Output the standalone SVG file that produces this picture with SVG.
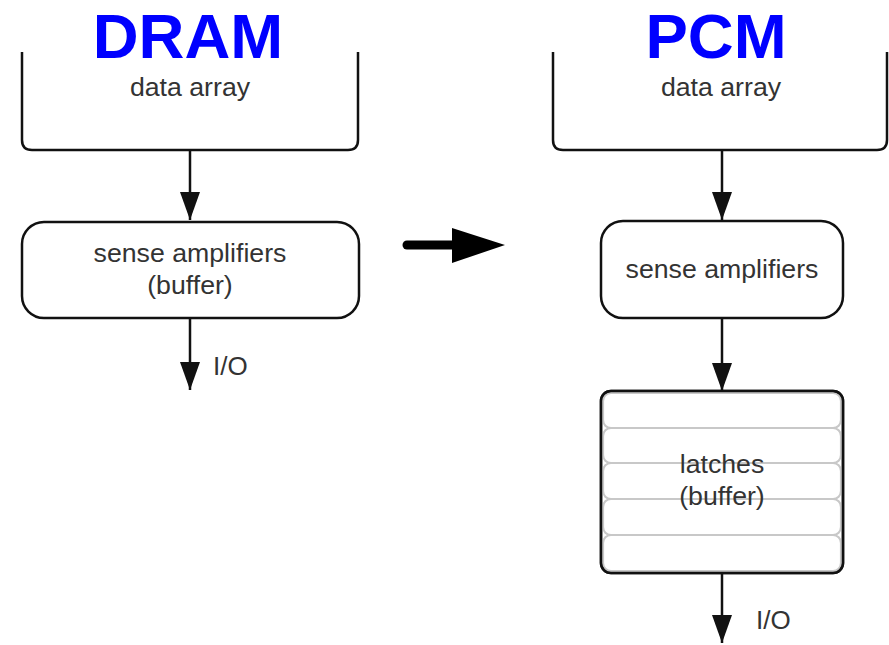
<svg xmlns="http://www.w3.org/2000/svg" width="889" height="645" viewBox="0 0 889 645">
<style>
.box{fill:#fff;stroke:#111;stroke-width:2.5}
.open{fill:none;stroke:#111;stroke-width:2.5}
.row{fill:none;stroke:#c8c8c8;stroke-width:2.2}
.lbl{font-family:"Liberation Sans",Arial,sans-serif;font-size:26.7px;fill:#333;text-anchor:middle}
.io{font-family:"Liberation Sans",Arial,sans-serif;font-size:26px;fill:#333}
.title{font-family:"Liberation Sans",Arial,sans-serif;font-size:63.5px;font-weight:bold;fill:#0000ff;text-anchor:middle}
.conn{stroke:#111;stroke-width:2.5;fill:none}
</style>
<defs>
<marker id="ah" markerUnits="userSpaceOnUse" markerWidth="28" markerHeight="20" refX="28" refY="10" orient="auto">
<path d="M0,0 L28,10 L0,20 z" fill="#111"/>
</marker>
</defs>
<g id="title-dram"><text class="title" x="188" y="58">DRAM</text></g>
<g id="title-pcm"><text class="title" x="716" y="58">PCM</text></g>
<g id="dram-data-array">
<path class="open" d="M22,52 V140 Q22,150 32,150 H348 Q358,150 358,140 V52"/>
<text class="lbl" x="190" y="96">data array</text>
</g>
<g id="dram-sense">
<rect class="box" x="22" y="222" width="337" height="96" rx="22"/>
<text class="lbl" x="190" y="262">sense amplifiers</text>
<text class="lbl" x="190" y="294">(buffer)</text>
</g>
<g id="dram-io"><text class="io" x="213" y="375">I/O</text></g>
<g id="pcm-data-array">
<path class="open" d="M553,52 V140 Q553,150 563,150 H877 Q887,150 887,140 V52"/>
<text class="lbl" x="721" y="96">data array</text>
</g>
<g id="pcm-sense">
<rect class="box" x="601" y="221" width="242" height="97" rx="22"/>
<text class="lbl" x="722" y="278">sense amplifiers</text>
</g>
<g id="pcm-latches">
<rect class="box" x="601" y="391" width="242" height="182" rx="10"/>
<rect class="row" x="603" y="393" width="238" height="35" rx="8"/>
<rect class="row" x="603" y="428" width="238" height="35" rx="8"/>
<rect class="row" x="603" y="463" width="238" height="36" rx="8"/>
<rect class="row" x="603" y="499" width="238" height="36" rx="8"/>
<rect class="row" x="603" y="535" width="238" height="36" rx="8"/>
<rect x="601" y="391" width="242" height="182" rx="10" fill="none" stroke="#111" stroke-width="2.5"/>
<text class="lbl" x="722" y="473">latches</text>
<text class="lbl" x="722" y="505">(buffer)</text>
</g>
<g id="pcm-io"><text class="io" x="756" y="629">I/O</text></g>
<g id="connectors">
<line class="conn" x1="190" y1="150" x2="190" y2="220" marker-end="url(#ah)"/>
<line class="conn" x1="190" y1="318" x2="190" y2="390" marker-end="url(#ah)"/>
<line class="conn" x1="722" y1="150" x2="722" y2="220" marker-end="url(#ah)"/>
<line class="conn" x1="722" y1="318" x2="722" y2="391" marker-end="url(#ah)"/>
<line class="conn" x1="722" y1="573" x2="722" y2="643" marker-end="url(#ah)"/>
<line x1="407" y1="245" x2="455" y2="245" stroke="#000" stroke-width="9" stroke-linecap="round"/>
<path d="M452,228 L505,245 L452,263 z" fill="#000"/>
</g>
</svg>
